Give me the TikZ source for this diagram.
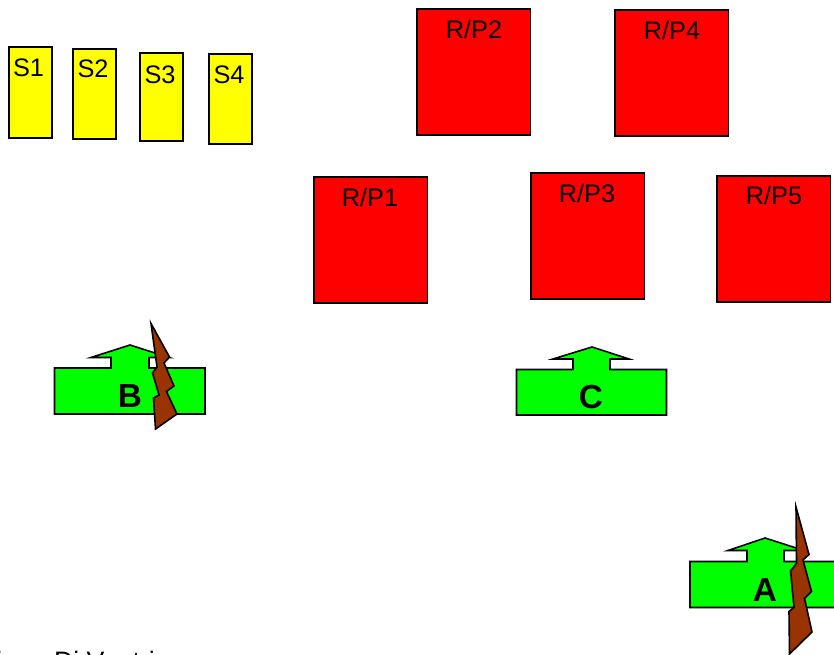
\documentclass[tikz,border=0pt]{standalone}
\usepackage{fontspec}
\setmainfont{Liberation Sans}
\definecolor{boltc}{RGB}{153,51,0}
\definecolor{yelc}{RGB}{255,255,0}
\definecolor{redc}{RGB}{255,0,0}
\definecolor{grnc}{RGB}{0,255,0}
\tikzset{
 x=0.75pt,y=-0.75pt,
 redbox/.style={draw=black,fill=redc,line width=1.2pt},
 yelbox/.style={draw=black,fill=yelc,line width=1.2pt},
 grn/.style={draw=black,fill=grnc,line width=1.2pt,line join=miter},
 bolt/.style={draw=black,fill=boltc,line width=1.2pt,line join=miter},
 lab/.style={font=\fontsize{19}{21}\selectfont,inner sep=0pt,text=black},
 big/.style={font=\fontsize{25}{27}\selectfont\bfseries,inner sep=0pt,text=black},
 cut/.style={font=\fontsize{20}{22}\selectfont,inner sep=0pt,text=black},
}
\begin{document}
\begin{tikzpicture}
\useasboundingbox (0,0) rectangle (834,655);
\clip (0,0) rectangle (834,655);
% yellow
\foreach \a/\b/\c/\d in {9/47/52/138, 73/49/116/139, 140/53/183/141, 209/54/252/144}{
 \path[yelbox] (\a,\b) rectangle (\c,\d);
}
\node[lab] (s1) at (28.5,68) {S1};
\node[lab] (s2) at (93,69) {S2};
\node[lab] (s3) at (160,74.5) {S3};
\node[lab] (s4) at (229,74.5) {S4};
% red
\foreach \a/\b in {417/9, 615/10, 314/177, 531/173, 717/176}{
 \path[redbox] (\a,\b) rectangle ++(113.5,126);
}
\node[lab] (r2) at (474,29.5) {R/P2};
\node[lab] (r4) at (672,30.5) {R/P4};
\node[lab] (r1) at (370,197.5) {R/P1};
\node[lab] (r3) at (587,193.5) {R/P3};
\node[lab] (r5) at (774,195.5) {R/P5};
% C
\path[grn] (516.5,369.5) -- (573,369.5) -- (573,359) -- (553,359) -- (592,347) -- (629,359) -- (610,359) -- (610,369.5) -- (666.5,369.5) -- (666.5,415) -- (516.5,415) -- cycle;
\node[big] (c) at (591,397) {C};
% B
\path[grn] (54.5,368) -- (111,368) -- (111,357.5) -- (91,357.5) -- (130,345) -- (169,357.5) -- (149,357.5) -- (149,368) -- (205,368) -- (205,414) -- (54.5,414) -- cycle;
\node[big] (b) at (130,396) {B};
\path[bolt] (151,323.5) -- (169.5,357) -- (164,363) -- (174,386) -- (166.5,391.5) -- (177,414) -- (155.5,429) -- (153.5,398) -- (159,395) -- (152.5,373) -- (157,367) -- cycle;
% A
\path[grn] (690,561.5) -- (747,561.5) -- (747,550.5) -- (728,550.5) -- (765,538) -- (804,550.5) -- (784,550.5) -- (784,561.5) -- (840,561.5) -- (840,607.5) -- (690,607.5) -- cycle;
\node[big] (a) at (765,590) {A};
\path[bolt] (796,507) -- (809,554.5) -- (803,560) -- (811.5,591.5) -- (804.5,598.5) -- (812,632) -- (789.5,654) -- (789,611.5) -- (794,607.5) -- (790.5,571) -- (796.5,563.5) -- cycle;
\node[cut,anchor=base west] (t) at (-4,670) {iano Di Ventri};
\end{tikzpicture}
\end{document}
